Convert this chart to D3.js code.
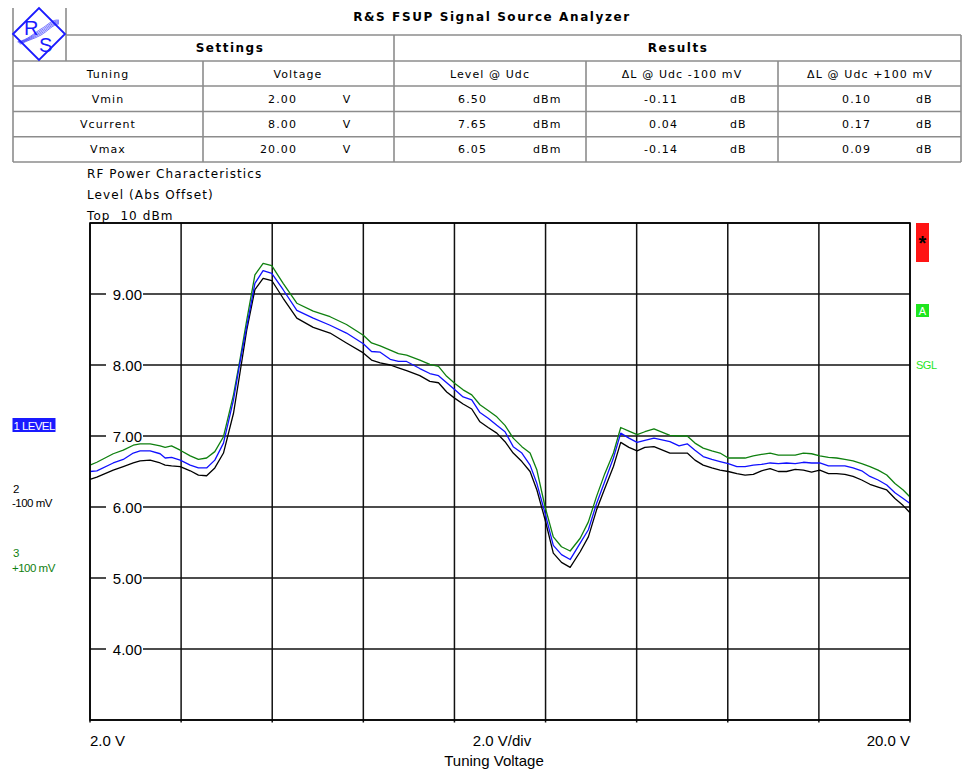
<!DOCTYPE html>
<html>
<head>
<meta charset="utf-8">
<script src="https://cdn.jsdelivr.net/npm/d3@7"></script>
<style>
  html, body { margin: 0; padding: 0; background: #fff; }
  svg { display: block; }
</style>
</head>
<body>
<svg id="chart" width="965" height="770"></svg>
<script>
// ---------- DATA ----------
const volts = [2.00,2.15,2.51,2.73,2.95,3.10,3.32,3.54,3.65,3.79,3.98,4.20,4.38,4.56,4.74,4.93,5.15,5.29,5.44,5.62,5.80,5.99,6.24,6.54,6.90,7.27,7.63,8.00,8.18,8.37,8.59,8.77,8.95,9.24,9.46,9.65,9.83,10.01,10.19,10.38,10.56,10.74,10.93,11.11,11.29,11.48,11.66,11.81,11.99,12.17,12.35,12.54,12.76,12.94,13.12,13.30,13.49,13.65,13.83,14.01,14.18,14.38,14.73,14.93,15.11,15.28,15.46,15.65,15.83,16.01,16.20,16.38,16.56,16.74,16.93,17.11,17.29,17.48,17.66,17.84,18.02,18.21,18.39,18.57,18.75,18.94,19.12,19.30,19.49,19.67,19.85,20.00];
const level = [6.50,6.51,6.62,6.67,6.76,6.79,6.79,6.75,6.69,6.70,6.66,6.59,6.55,6.55,6.66,6.90,7.51,8.03,8.54,9.15,9.33,9.29,9.06,8.77,8.66,8.56,8.45,8.30,8.19,8.18,8.08,8.05,8.05,7.95,7.88,7.85,7.75,7.65,7.55,7.51,7.33,7.25,7.15,7.06,6.85,6.76,6.59,6.33,5.91,5.46,5.33,5.26,5.49,5.68,6.05,6.36,6.69,7.04,6.97,6.91,6.94,6.97,6.92,6.86,6.89,6.80,6.71,6.67,6.64,6.61,6.57,6.57,6.59,6.60,6.62,6.61,6.62,6.61,6.63,6.62,6.62,6.58,6.58,6.58,6.55,6.51,6.43,6.38,6.31,6.20,6.12,6.05];
const levelMinus100 = [6.39,6.42,6.52,6.57,6.62,6.65,6.66,6.62,6.59,6.58,6.57,6.51,6.45,6.44,6.55,6.76,7.32,7.88,8.49,9.06,9.22,9.19,8.94,8.66,8.53,8.45,8.31,8.17,8.07,8.03,8.00,7.96,7.92,7.85,7.77,7.75,7.62,7.53,7.45,7.38,7.20,7.12,7.04,6.92,6.76,6.64,6.50,6.24,5.82,5.35,5.22,5.15,5.37,5.58,5.96,6.26,6.57,6.91,6.84,6.79,6.84,6.85,6.76,6.76,6.76,6.66,6.59,6.55,6.52,6.50,6.47,6.45,6.46,6.51,6.54,6.50,6.50,6.53,6.52,6.49,6.52,6.47,6.47,6.46,6.43,6.38,6.32,6.28,6.24,6.12,6.02,5.92];
const levelPlus100 = [6.59,6.63,6.75,6.80,6.87,6.89,6.89,6.86,6.84,6.86,6.80,6.72,6.67,6.69,6.78,6.99,7.58,8.07,8.63,9.27,9.43,9.40,9.15,8.87,8.76,8.68,8.57,8.42,8.31,8.27,8.21,8.16,8.14,8.07,8.01,7.98,7.84,7.74,7.65,7.58,7.44,7.36,7.27,7.15,6.97,6.85,6.76,6.52,6.00,5.58,5.44,5.38,5.56,5.79,6.15,6.47,6.76,7.12,7.07,7.02,7.06,7.10,7.01,7.00,7.00,6.90,6.83,6.79,6.76,6.69,6.69,6.69,6.72,6.74,6.76,6.73,6.73,6.73,6.76,6.75,6.72,6.70,6.69,6.67,6.65,6.61,6.57,6.52,6.45,6.33,6.24,6.14];

const xTicks = [2,4,6,8,10,12,14,16,18,20];
const yTicks = [3,4,5,6,7,8,9,10];
const yLabelTicks = [4,5,6,7,8,9];

const tuningNames = ["Vmin","Vcurrent","Vmax"];
const tuningVolts = ["2.00","8.00","20.00"];
const levelAtUdc = ["6.50","7.65","6.05"];
const deltaMinus = ["-0.11","0.04","-0.14"];
const deltaPlus = ["0.10","0.17","0.09"];

// ---------- SETUP ----------
const svg = d3.select("#chart");
svg.append("rect").attr("width",965).attr("height",770).attr("fill","#fff");

const tableFont = "'DejaVu Sans', Verdana, sans-serif";
const plotFont = "'Liberation Sans', Arial, sans-serif";
const gridCol = "#8c8c8c";

// ---------- HEADER TABLE ----------
const T = { left: 13, right: 961, logoRight: 66, top: 8, split: 394,
            rows: [35, 61, 86, 111.5, 136.7, 162], cols: [203, 586, 778] };
const tg = svg.append("g");
function tline(x1,y1,x2,y2){ tg.append("line").attr("x1",x1).attr("y1",y1).attr("x2",x2).attr("y2",y2)
  .attr("stroke",gridCol).attr("stroke-width",1.6); }
tline(T.left, T.top, T.left, T.rows[5]);
tline(T.right, T.rows[0], T.right, T.rows[5]);
tline(T.logoRight, T.top, T.logoRight, T.rows[1]);
tline(T.logoRight, T.rows[0], T.right, T.rows[0]);
for (let i = 1; i < T.rows.length; i++) tline(T.left, T.rows[i], T.right, T.rows[i]);
tline(T.split, T.rows[0], T.split, T.rows[5]);
T.cols.forEach(c => tline(c, T.rows[1], c, T.rows[5]));

function ttext(x, y, s, opts = {}) {
  return tg.append("text").attr("x", x).attr("y", y).text(s)
    .attr("font-family", tableFont)
    .attr("font-size", opts.size || 11)
    .attr("font-weight", opts.bold ? "bold" : "normal")
    .attr("letter-spacing", opts.ls != null ? opts.ls : 1.1)
    .attr("text-anchor", opts.anchor || "middle")
    .attr("fill", "#000");
}
ttext(492, 21, "R&S FSUP Signal Source Analyzer", {bold: true, size: 12, ls: 1.6});
ttext(230, 52, "Settings", {bold: true, size: 12, ls: 1.5});
ttext(678, 52, "Results", {bold: true, size: 12, ls: 1.5});
ttext(108, 78, "Tuning");
ttext(298, 78, "Voltage");
ttext(490, 78, "Level @ Udc");
ttext(682, 78, "\u0394L @ Udc -100 mV");
ttext(870, 78, "\u0394L @ Udc +100 mV");
const rowBase = [103, 128, 153];
tuningNames.forEach((n, i) => {
  ttext(108, rowBase[i], n);
  ttext(297, rowBase[i], tuningVolts[i], {anchor: "end"});
  ttext(347, rowBase[i], "V");
  ttext(487, rowBase[i], levelAtUdc[i], {anchor: "end"});
  ttext(533, rowBase[i], "dBm", {anchor: "start"});
  ttext(678, rowBase[i], deltaMinus[i], {anchor: "end"});
  ttext(730, rowBase[i], "dB", {anchor: "start"});
  ttext(871, rowBase[i], deltaPlus[i], {anchor: "end"});
  ttext(916, rowBase[i], "dB", {anchor: "start"});
});

// logo
const logo = svg.append("g");
const blue = "#1a1aff";
logo.append("path").attr("d", "M13,34 L39,8 L65,34 L39,60 Z").attr("fill","none").attr("stroke",blue).attr("stroke-width",1.8);
[-3, -1.5, 0, 1.5, 3].forEach(o => {
  logo.append("path").attr("d", `M${19+o*0.5},${43+o*0.4} C28,40 34,${36+o} 41,${32+o} S52,${22+o} ${59},${22+o*0.6}`)
    .attr("fill","none").attr("stroke",blue).attr("stroke-width",0.6);
});
logo.append("text").attr("x",24).attr("y",35).text("R").attr("font-family",plotFont).attr("font-size",20).attr("fill",blue);
logo.append("text").attr("x",39).attr("y",52).text("S").attr("font-family",plotFont).attr("font-size",20).attr("fill",blue);

// ---------- PLOT ----------
const P = { left: 90, right: 910, top: 223, bottom: 720 };
const x = d3.scaleLinear().domain([2, 20]).range([P.left, P.right]);
const y = d3.scaleLinear().domain([3, 10]).range([P.bottom, P.top]);

// titles above plot
["RF Power Characteristics", "Level (Abs Offset)", "Top  10 dBm"].forEach((s, i) => {
  svg.append("text").attr("x", 87).attr("y", 178 + i * 21).text(s)
    .attr("font-family", tableFont).attr("font-size", 12).attr("letter-spacing", 1.1)
    .style("white-space","pre").attr("fill","#000");
});

const grid = svg.append("g");
grid.selectAll("line.v").data(xTicks).join("line")
  .attr("x1", d => x(d)).attr("x2", d => x(d))
  .attr("y1", P.top).attr("y2", P.bottom + 2.5)
  .attr("stroke", "#111").attr("stroke-width", 1.5);
grid.selectAll("line.h").data(yTicks).join("line")
  .attr("x1", P.left).attr("x2", P.right)
  .attr("y1", d => y(d)).attr("y2", d => y(d))
  .attr("stroke", "#111").attr("stroke-width", 1.5);

// y labels with white background
const yl = svg.append("g");
yLabelTicks.forEach(v => {
  yl.append("rect").attr("x", 106).attr("y", y(v) - 7).attr("width", 37).attr("height", 14).attr("fill", "#fff");
  yl.append("text").attr("x", 142).attr("y", y(v) + 5.5).text(v.toFixed(2))
    .attr("text-anchor", "end").attr("font-family", plotFont).attr("font-size", 15).attr("fill", "#000");
});

// traces
const line = d3.line().x((d, i) => x(volts[i])).y(d => y(d));
const traces = [
  { data: levelPlus100, color: "#0f800f" },
  { data: levelMinus100, color: "#000000" },
  { data: level, color: "#1010ff" }
];
svg.append("g").selectAll("path").data(traces).join("path")
  .attr("d", d => line(d.data)).attr("fill", "none")
  .attr("stroke", d => d.color).attr("stroke-width", 1.3).attr("stroke-linejoin", "round");

// x labels
const xl = svg.append("g").attr("font-family", plotFont).attr("font-size", 15).attr("fill", "#000");
xl.append("text").attr("x", x(2)).attr("y", 746).text("2.0 V").attr("text-anchor", "start");
xl.append("text").attr("x", 502).attr("y", 746).text("2.0 V/div").attr("text-anchor", "middle");
xl.append("text").attr("x", x(20)).attr("y", 746).text("20.0 V").attr("text-anchor", "end");
xl.append("text").attr("x", 494).attr("y", 766).text("Tuning Voltage").attr("text-anchor", "middle");

// left trace legend
const lg = svg.append("g").attr("font-family", plotFont).attr("font-size", 11.5);
lg.append("rect").attr("x", 12.5).attr("y", 418).attr("width", 43).attr("height", 14).attr("fill", "#1a1aff");
lg.append("text").attr("x", 13.5).attr("y", 429.5).text("1 LEVEL").attr("fill", "#fff").attr("letter-spacing", -0.6);
lg.append("text").attr("x", 13).attr("y", 493).text("2").attr("fill", "#000");
lg.append("text").attr("x", 12).attr("y", 507).text("-100 mV").attr("fill", "#000").attr("letter-spacing", -0.5);
lg.append("text").attr("x", 13).attr("y", 557).text("3").attr("fill", "#0f800f");
lg.append("text").attr("x", 12).attr("y", 572).text("+100 mV").attr("fill", "#0f800f").attr("letter-spacing", -0.5);

// right status markers
const rs = svg.append("g");
rs.append("rect").attr("x", 916).attr("y", 223).attr("width", 13).attr("height", 39).attr("fill", "#ff1414");
rs.append("text").attr("x", 922.5).attr("y", 250).text("*").attr("text-anchor", "middle")
  .attr("font-family", plotFont).attr("font-weight", "bold").attr("font-size", 20).attr("fill", "#000");
rs.append("rect").attr("x", 916).attr("y", 304).attr("width", 13).attr("height", 13).attr("fill", "#1ee61e");
rs.append("text").attr("x", 922.5).attr("y", 315).text("A").attr("text-anchor", "middle")
  .attr("font-family", plotFont).attr("font-size", 11).attr("fill", "#fff");
rs.append("text").attr("x", 916).attr("y", 369).text("SGL").attr("letter-spacing", -0.5)
  .attr("font-family", plotFont).attr("font-size", 11).attr("fill", "#1ee61e");

// plot border on top
svg.append("rect").attr("x", P.left).attr("y", P.top).attr("width", P.right - P.left).attr("height", P.bottom - P.top)
  .attr("fill", "none").attr("stroke", "#000").attr("stroke-width", 1.6);
</script>
</body>
</html>
